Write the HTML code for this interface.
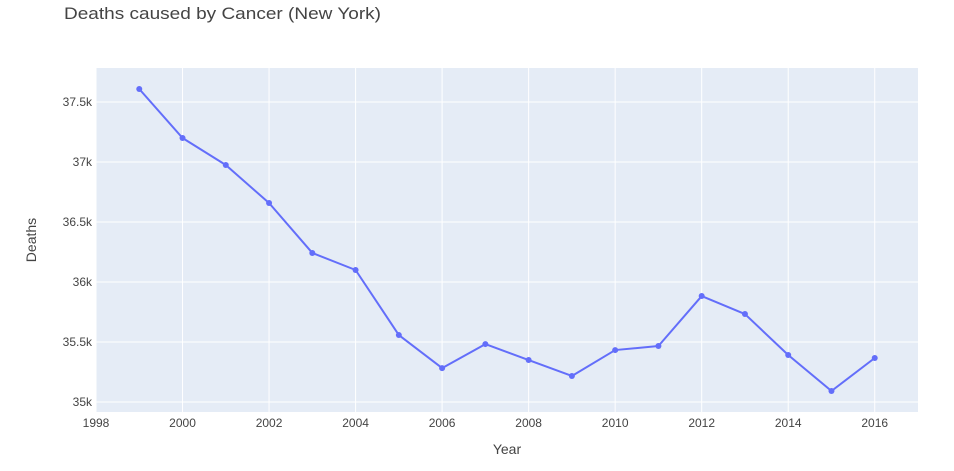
<!DOCTYPE html>
<html><head><meta charset="utf-8"><style>
body{margin:0;background:#fff;}
svg{display:block;font-family:"Liberation Sans",Arial,sans-serif;}
</style></head><body>
<svg id="chart" width="954" height="471"></svg>
<script>
const years=[1999,2000,2001,2002,2003,2004,2005,2006,2007,2008,2009,2010,2011,2012,2013,2014,2015,2016];
const deaths=[37608,37200,36975,36658,36242,36100,35558,35283,35483,35350,35217,35433,35467,35883,35733,35392,35092,35367];
const xTicks=[1998,2000,2002,2004,2006,2008,2010,2012,2014,2016];
const yTicks=[35000,35500,36000,36500,37000,37500];
const yTickLabels=["35k","35.5k","36k","36.5k","37k","37.5k"];

const L=96,R=918,T=68,B=412;
const xMin=1998,xMax=2017,yMin=34917,yMax=37783;
const sx=v=>L+(v-xMin)/(xMax-xMin)*(R-L);
const sy=v=>B-(v-yMin)/(yMax-yMin)*(B-T);
const NS="http://www.w3.org/2000/svg";
const svg=document.getElementById('chart');
function mk(tag,attrs,parent){const e=document.createElementNS(NS,tag);for(const k in attrs)e.setAttribute(k,attrs[k]);(parent||svg).appendChild(e);return e;}

const bg=mk('rect',{x:L,y:T,width:R-L,height:B-T,fill:'#e5ecf6'});



xTicks.forEach(t=>{
  const x=sx(t);
  const g=mk('line',{x1:x,x2:x,y1:T,y2:B,stroke:'#fff','stroke-width':1});
  
  
  const tx=mk('text',{x:x,y:B+15,'text-anchor':'middle','font-size':12,fill:'#444'});
  tx.textContent=t;
  
  
});
yTicks.forEach((t,i)=>{
  const y=sy(t);
  const g=mk('line',{x1:L,x2:R,y1:y,y2:y,stroke:'#fff','stroke-width':1});
  
  
  const tx=mk('text',{x:L-4,y:y+4,'text-anchor':'end','font-size':12,fill:'#444'});
  tx.textContent=yTickLabels[i];
  
  
});

const pts=years.map((yr,i)=>sx(yr)+','+sy(deaths[i])).join(' ');
const line=mk('polyline',{points:pts,fill:'none',stroke:'#636efa','stroke-width':2,'stroke-linejoin':'round'});


years.forEach((yr,i)=>{
  const c=mk('circle',{cx:sx(yr),cy:sy(deaths[i]),r:3,fill:'#636efa'});
  
  
});

const title=mk('text',{x:64,y:19,'font-size':17,fill:'#444',textLength:317,lengthAdjust:'spacingAndGlyphs'});
title.textContent='Deaths caused by Cancer (New York)';


const xt=mk('text',{x:507,y:454,'text-anchor':'middle','font-size':14,fill:'#444'});
xt.textContent='Year';


const yt=mk('text',{x:36,y:240,'text-anchor':'middle','font-size':14,fill:'#444',transform:'rotate(-90 36 240)'});
yt.textContent='Deaths';


</script>
</body></html>
